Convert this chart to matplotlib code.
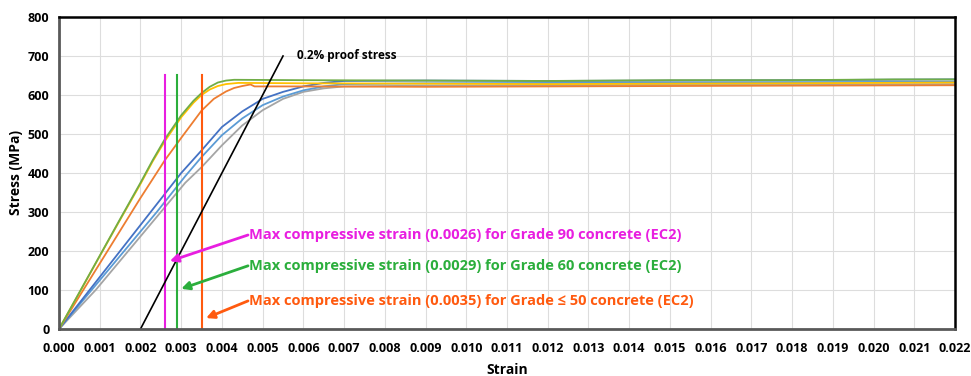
import numpy as np
import matplotlib.pyplot as plt

plt.rcParams['font.family'] = ['Open Sans', 'DejaVu Sans']

# stress-strain curves (strain, MPa)
green_x = [0, 0.0005, 0.001, 0.0015, 0.002, 0.0023, 0.0026, 0.0030, 0.0033, 0.0035, 0.0037, 0.0039, 0.0041, 0.0043, 0.006, 0.009, 0.012, 0.015, 0.018, 0.0205, 0.022]
green_y = [0, 94, 188, 282, 375, 433, 487, 548, 585, 605, 621, 632, 637, 639, 638, 637, 636, 638, 638, 640, 640]

yellow_x = [0, 0.0005, 0.001, 0.0015, 0.002, 0.0023, 0.0026, 0.0030, 0.0033, 0.0035, 0.0037, 0.0039, 0.0041, 0.0044, 0.006, 0.009, 0.012, 0.015, 0.018, 0.022]
yellow_y = [0, 93, 187, 280, 372, 430, 482, 543, 580, 600, 614, 623, 628, 631, 630, 629, 628, 629, 630, 632]

orange_x = [0, 0.0005, 0.001, 0.0015, 0.002, 0.0026, 0.0030, 0.0035, 0.0038, 0.0041, 0.0043, 0.0045, 0.0047, 0.0048, 0.006, 0.009, 0.012, 0.015, 0.018, 0.022]
orange_y = [0, 84, 168, 252, 336, 433, 490, 560, 590, 609, 618, 623, 627, 622, 622, 621, 622, 623, 624, 625]

blue_x = [0, 0.00075, 0.0015, 0.00225, 0.0030, 0.0035, 0.0040, 0.0045, 0.0050, 0.0055, 0.0060, 0.0065, 0.0070, 0.009, 0.012, 0.015, 0.018, 0.022]
blue_y = [0, 100, 200, 300, 400, 458, 518, 558, 590, 608, 622, 631, 636, 637, 636, 637, 638, 640]

lblue_x = [0, 0.0008, 0.0016, 0.0024, 0.0031, 0.0035, 0.0040, 0.0045, 0.0050, 0.0055, 0.0060, 0.0065, 0.0070, 0.009, 0.012, 0.015, 0.018, 0.022]
lblue_y = [0, 100, 200, 300, 392, 441, 497, 540, 574, 596, 612, 622, 628, 630, 631, 632, 633, 634]

gray_x = [0, 0.0009, 0.0017, 0.0025, 0.0031, 0.0035, 0.0040, 0.0045, 0.0050, 0.0055, 0.0060, 0.0065, 0.0070, 0.009, 0.012, 0.015, 0.018, 0.022]
gray_y = [0, 100, 200, 300, 375, 415, 471, 522, 561, 590, 608, 617, 622, 624, 625, 626, 627, 628]

# EC2 max compressive strains
limits = [0.0026, 0.0029, 0.0035]
limit_colors = ['#E81EE0', '#2BAE3C', '#FF5A0F']
limit_labels = ['Max compressive strain (0.0026) for Grade 90 concrete (EC2)',
                'Max compressive strain (0.0029) for Grade 60 concrete (EC2)',
                'Max compressive strain (0.0035) for Grade \u2264 50 concrete (EC2)']
label_pos = [(0.00464, 241), (0.00464, 162), (0.00464, 72)]
arrow_tip = [(0.00272, 174), (0.00300, 103), (0.00361, 28)]

proof_x = [0.002, 0.0055]
proof_y = [0, 700]

fig = plt.figure(figsize=(9.71, 3.76), dpi=100)
ax = fig.add_axes([0.0608, 0.125, 0.9227, 0.8298])

ax.plot(gray_x, gray_y, color='#A5A5A5', lw=1.3)
ax.plot(lblue_x, lblue_y, color='#5B9BD5', lw=1.3)
ax.plot(blue_x, blue_y, color='#4472C4', lw=1.3)
ax.plot(orange_x, orange_y, color='#ED7D31', lw=1.3)
ax.plot(yellow_x, yellow_y, color='#FFC000', lw=1.3)
ax.plot(green_x, green_y, color='#70AD47', lw=1.3)

for x, c in zip(limits, limit_colors):
    ax.plot([x, x], [0, 650], color=c, lw=1.5)

ax.plot(proof_x, proof_y, color='black', lw=1.2)
ax.text(0.00585, 700, '0.2% proof stress', fontsize=8.5, fontweight='bold', va='center', ha='left')

for lab, c, p, t in zip(limit_labels, limit_colors, label_pos, arrow_tip):
    ax.annotate('', xy=t, xytext=p,
                arrowprops=dict(arrowstyle='-|>', color=c, lw=2, mutation_scale=12, shrinkA=0, shrinkB=0))
    ax.text(p[0] + 0.00002, p[1], lab, color=c, fontsize=10.5, fontweight='bold', va='center', ha='left')

ax.set_xlim(0, 0.022)
ax.set_ylim(0, 800)
ax.set_xticks(np.arange(0, 0.0221, 0.001))
ax.set_xticklabels(['%.3f' % v for v in np.arange(0, 0.0221, 0.001)])
ax.set_yticks(np.arange(0, 801, 100))
ax.tick_params(axis='x', length=0, labelsize=9, pad=9)
ax.tick_params(axis='y', length=0, labelsize=9, pad=7)
for lab in ax.get_xticklabels() + ax.get_yticklabels():
    lab.set_fontweight('bold')
ax.grid(True, color='#DDDDDD', lw=0.8)
ax.set_axisbelow(True)
for s in ['left', 'bottom']:
    ax.spines[s].set_color('#595959')
    ax.spines[s].set_linewidth(2)
for s in ['top', 'right']:
    ax.spines[s].set_color('black')
    ax.spines[s].set_linewidth(1.8)

ax.set_xlabel('Strain', fontsize=10, fontweight='bold', labelpad=6)
ax.set_ylabel('Stress (MPa)', fontsize=10, fontweight='bold', labelpad=3)

fig.savefig('out.png', dpi=100)
